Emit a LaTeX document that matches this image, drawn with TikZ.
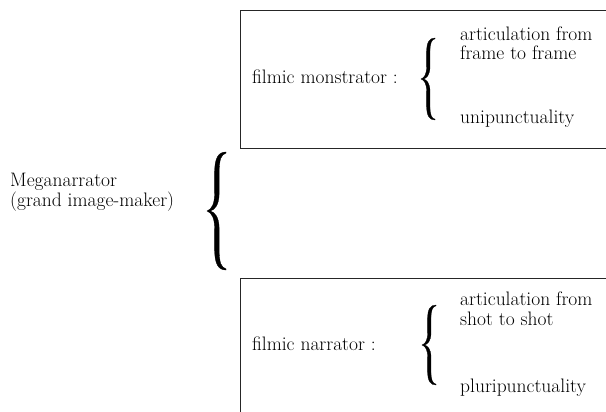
\documentclass[tikz,border=0pt]{standalone}
\usepackage{fontspec}
\begin{document}
\begin{tikzpicture}[x=1pt, y=-1pt,
  txt/.style={font=\fontsize{19.5}{20}\selectfont,inner sep=0pt,anchor=base west,align=left},
  frame/.style={line width=1pt,black!85},
  curly/.style={fill=black,draw=black,line width=0.3pt}]
\useasboundingbox (0,0) rectangle (606,412);
\def\curlypath{(0,0) .. controls (0.25,0.03) and (0.4,0.12) .. (0.4,0.3) -- (0.4,0.65)
  .. controls (0.4,0.9) and (0.6,1) .. (1,1) -- (1,0.98)
  .. controls (0.75,0.96) and (0.64,0.88) .. (0.64,0.65) -- (0.64,0.3)
  .. controls (0.64,0.1) and (0.4,0.02) .. (0.18,0)
  .. controls (0.4,-0.02) and (0.64,-0.1) .. (0.64,-0.3) -- (0.64,-0.65)
  .. controls (0.64,-0.88) and (0.75,-0.96) .. (1,-0.98) -- (1,-1)
  .. controls (0.6,-1) and (0.4,-0.9) .. (0.4,-0.65) -- (0.4,-0.3)
  .. controls (0.4,-0.12) and (0.25,-0.03) .. (0,0) -- cycle}
\coordinate (monTR) at (606,11);
\coordinate (monTL) at (240.5,11);
\coordinate (monBL) at (240.5,149);
\coordinate (monBR) at (606,149);
\coordinate (narTR) at (606,278);
\coordinate (narTL) at (240.5,278);
\coordinate (narBL) at (240.5,412);
\draw[frame] (monTR) -- (monTL) -- (monBL) -- (monBR);
\draw[frame] (narTR) -- (narTL) -- (narBL);
\node[txt] (mega) at (10,206) {Meganarrator\\(grand image-maker)};
\fill[curly,shift={(207,211)},xscale=19,yscale=59] \curlypath;
\node[txt] (monLabel) at (252,84) {filmic monstrator :};
\fill[curly,shift={(421,79)},xscale=14,yscale=41] \curlypath;
\node[txt] (monArt) at (460,60) {articulation from\\frame to frame};
\node[txt] (monUni) at (460,124) {unipunctuality};
\node[txt] (narLabel) at (252,350) {filmic narrator :};
\fill[curly,shift={(422,345)},xscale=14,yscale=40] \curlypath;
\node[txt] (narArt) at (460,325) {articulation from\\shot to shot};
\node[txt] (narPlu) at (460,392) {pluripunctuality};
\end{tikzpicture}
\end{document}
